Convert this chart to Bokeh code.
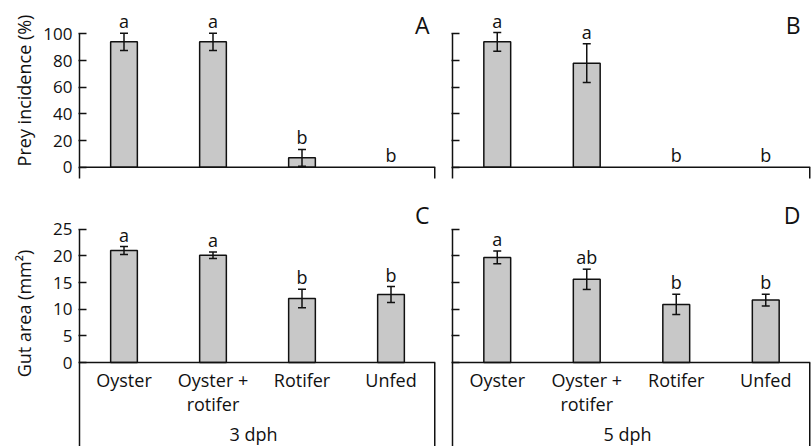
from bokeh.plotting import figure
from bokeh.models import (FactorRange, Range1d, FixedTicker, ColumnDataSource,
                          Whisker, TeeHead, Label, Span)
from bokeh.layouts import gridplot
from bokeh.embed import file_html
from bokeh.resources import INLINE
from bokeh.core.properties import value

# ---------------- data ----------------
categories = ["Oyster", "Oyster + rotifer", "Rotifer", "Unfed"]
tick_labels = ["Oyster", "Oyster +\nrotifer", "Rotifer", "Unfed"]
groups = ["3 dph", "5 dph"]
panel_letters = ["A", "B", "C", "D"]

prey_ticks = [0, 20, 40, 60, 80, 100]
gut_ticks = [0, 5, 10, 15, 20, 25]

prey_3dph = [94, 94, 7, 0]
prey_3dph_err = [6.5, 6.5, 6.3, 0]
prey_3dph_sig = ["a", "a", "b", "b"]

prey_5dph = [94, 78, 0, 0]
prey_5dph_err = [7, 14.5, 0, 0]
prey_5dph_sig = ["a", "a", "b", "b"]

gut_3dph = [21.0, 20.1, 12.0, 12.75]
gut_3dph_err = [0.75, 0.6, 1.75, 1.5]
gut_3dph_sig = ["a", "a", "b", "b"]

gut_5dph = [19.7, 15.6, 10.9, 11.7]
gut_5dph_err = [1.2, 1.9, 1.9, 1.1]
gut_5dph_sig = ["a", "ab", "b", "b"]

# ---------------- style ----------------
FONT = "Open Sans"
INK = "#111111"
BAR = "#c8c8c8"
LW = 1.5


def make_panel(vals, errs, sig, letter, ticks, y_range, axis_lo, width, height,
               mb_left, mb_right, ylabel, ylabel_standoff, group_label,
               letter_dx, letter_dy):
    p = figure(x_range=FactorRange(*categories), y_range=Range1d(*y_range),
               width=width, height=height, output_backend="svg",
               toolbar_location=None, min_border_left=mb_left,
               min_border_right=mb_right, min_border_top=0, min_border_bottom=0,
               background_fill_color="white", border_fill_color="white")
    p.outline_line_color = None
    p.xgrid.visible = False
    p.ygrid.visible = False
    p.xaxis.visible = False

    bars = [(c, v) for c, v in zip(categories, vals) if v > 0]
    p.vbar(x=[b[0] for b in bars], top=[b[1] for b in bars], width=0.3,
           fill_color=BAR, line_color=INK, line_width=LW)

    er = [(c, v - e, v + e) for c, v, e in zip(categories, vals, errs) if e > 0]
    src = ColumnDataSource(dict(cat=[r[0] for r in er], lower=[r[1] for r in er],
                                upper=[r[2] for r in er]))
    w = Whisker(base="cat", lower="lower", upper="upper", source=src,
                line_color=INK, line_width=LW, level="annotation",
                upper_head=TeeHead(size=8, line_color=INK, line_width=LW),
                lower_head=TeeHead(size=8, line_color=INK, line_width=LW))
    p.add_layout(w)

    # baseline at zero and its downward end tick
    p.add_layout(Span(location=0, dimension="width", line_color=INK, line_width=LW))
    p.segment(x0=[4], y0=[0], x1=[4], y1=[axis_lo], line_color=INK, line_width=LW * 2)

    # significance letters
    p.text(x=categories, y=[v + e for v, e in zip(vals, errs)], text=sig,
           text_align="center", text_baseline="bottom", y_offset=0,
           text_line_height=1.0,
           text_font=value(FONT), text_font_size="18px", text_color=INK)

    # category labels and group label under the baseline
    if group_label is not None:
        p.text(x=categories, y=[0] * len(categories), text=tick_labels,
               text_align="center", text_baseline="top", y_offset=5,
               text_line_height=1.0,
               text_font=value(FONT), text_font_size="18px", text_color=INK)
        p.text(x=[2], y=[0], text=[group_label], text_align="center",
               text_baseline="top", x_offset=-4, y_offset=59,
               text_line_height=1.0,
               text_font=value(FONT), text_font_size="18px", text_color=INK)

    p.add_layout(Label(x=4, y=ticks[-1], text=letter, text_align="right",
                       text_baseline="middle", x_offset=letter_dx, y_offset=letter_dy,
                       text_line_height=1.0,
                       text_font=FONT, text_font_size="23px", text_color=INK))

    ya = p.yaxis[0]
    ya.ticker = FixedTicker(ticks=ticks)
    ya.bounds = (axis_lo, ticks[-1])
    ya.minor_tick_line_color = None
    ya.major_tick_in = 7
    ya.major_tick_out = 1
    ya.axis_line_width = LW
    ya.axis_line_color = INK
    ya.major_tick_line_width = LW
    ya.major_tick_line_color = INK
    ya.major_label_standoff = 6
    ya.major_label_text_font = FONT
    ya.major_label_text_font_size = "17px"
    ya.major_label_text_color = INK
    if ylabel is None:
        ya.major_label_overrides = {t: "" for t in ticks}
        ya.major_label_standoff = 0
    else:
        ya.axis_label = ylabel
        ya.axis_label_text_font = FONT
        ya.axis_label_text_font_size = "18px"
        ya.axis_label_text_font_style = "normal"
        ya.axis_label_text_color = INK
        ya.axis_label_standoff = ylabel_standoff
    return p


LEFT_W, RIGHT_W = 444, 367
TOP_H, BOT_H = 180, 266

pA = make_panel(prey_3dph, prey_3dph_err, prey_3dph_sig, panel_letters[0], prey_ticks,
                (-10.0, 125.0), -8.5, LEFT_W, TOP_H, 79, 9, "Prey incidence (%)", 4, None, -6, 9)
pB = make_panel(prey_5dph, prey_5dph_err, prey_5dph_sig, panel_letters[1], prey_ticks,
                (-10.0, 125.0), -8.5, RIGHT_W, TOP_H, 8, 1, None, 0, None, -10, 9)
pC = make_panel(gut_3dph, gut_3dph_err, gut_3dph_sig, panel_letters[2], gut_ticks,
                (-15.75, 34.13), -15.75, LEFT_W, BOT_H, 79, 9, "Gut area (mm²)", 14, groups[0], -6, 14)
pD = make_panel(gut_5dph, gut_5dph_err, gut_5dph_sig, panel_letters[3], gut_ticks,
                (-15.75, 34.13), -15.75, RIGHT_W, BOT_H, 8, 1, None, 0, groups[1], -10, 14)

grid = gridplot([[pA, pB], [pC, pD]], toolbar_location=None)

open("out.html", "w").write(file_html(grid, INLINE))
